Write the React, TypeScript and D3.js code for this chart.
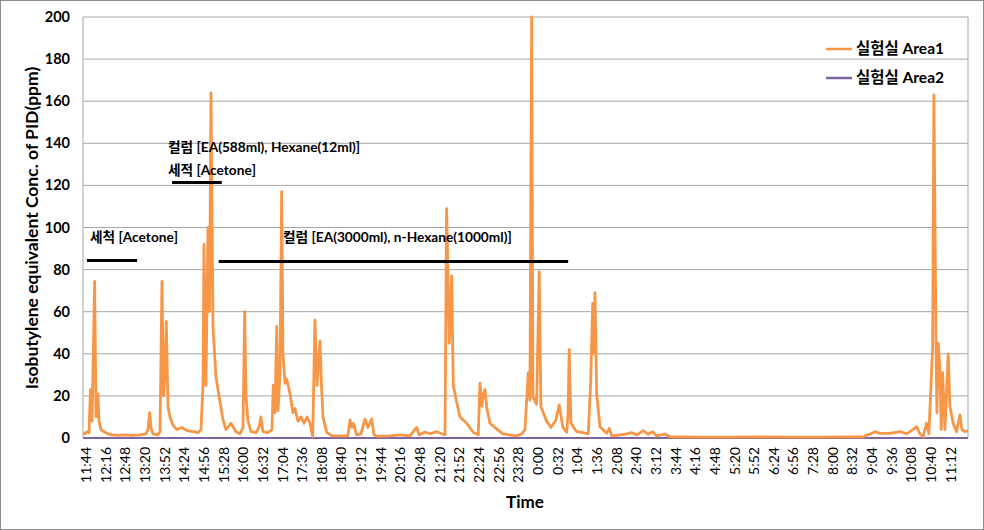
import React from "react";
import * as d3 from "d3";

// minutes elapsed since 11:39 (start of record) and PID values (ppm)
const area1Minutes = [
  0, 3.3, 6.5, 9.8, 12.2, 14.7, 19, 21.2, 24.4, 26, 29.3, 34.2, 40.7, 47.2, 57, 68.4, 79.8, 92.8, 102.6, 105.8,
  108.6, 110.7, 114, 122, 125.4, 128.6, 131, 133.5, 135.6, 138.4, 141.6, 146.5, 153, 161.2, 169.3, 179, 187.2, 192.1,
  195.4, 197, 200.2, 203.5, 206, 208.4, 211.6, 216.5, 222.6, 228, 232.8, 241, 249, 255.6, 260.5, 263.3, 265.4, 268.6,
  273.5, 281.6, 286.5, 289.8, 293, 301.2, 307.7, 309.8, 312.6, 315.4, 317.5, 320.7, 323.5, 325.6, 328.9, 331.6, 337,
  341.9, 345.2, 350, 355, 359.9, 364.7, 369.6, 374, 377.7, 381, 385.9, 388.3, 390.7, 396.8, 405.4, 418.4, 431.4, 434.7,
  438, 440, 445.6, 452.6, 459.1, 464, 470, 473.8, 478.6, 499.8, 516, 532.4, 543.3, 547, 556.8, 565, 575.8, 584.5, 589.4,
  592.1, 596.3, 600.3, 602.9, 608.4, 613.8, 624.7, 635.4, 643.6, 646.3, 649.6, 652, 654.5, 657.7, 662.6, 672.4, 683.8,
  695.2, 706.1, 714.7, 719.6, 725, 727.7, 730.5, 732.6, 738.6, 742.8, 745.6, 754.9, 761.9, 770, 775.4, 781.4, 787.5,
  789.6, 791.7, 794.5, 803.8, 814, 822.7, 826.6, 829.9, 832, 833.6, 836.4, 841.7, 852.6, 856.9, 860.8, 874.3, 885.2,
  893.3, 902, 912.2, 919.9, 927.5, 934, 947.5, 955.7, 1004.5, 1053.4, 1102.2, 1151, 1199.9, 1248.7, 1270.4, 1275.9,
  1282.9, 1289.4, 1297.6, 1313.9, 1330.2, 1341, 1351.2, 1357.3, 1362.6, 1368, 1373.5, 1377.3, 1383.4, 1385.5, 1388.8,
  1390.4, 1392.5, 1395.3, 1397.4, 1399.7, 1403.4, 1408.8, 1411.5, 1416.9, 1422.4, 1427.8, 1431.1, 1436, 1441,
];
const area1Values = [
  2.4, 2, 3, 2.5, 23, 8, 74.4, 10, 21, 8, 4, 3, 2, 1.5, 1.2, 1.5, 1.2, 1.5, 2, 4,
  12, 5, 2, 1.5, 3, 74.4, 20, 30, 55.4, 15, 10, 6, 4, 5, 3.5, 3, 2.5, 4,
  25, 92, 25, 100, 60, 164, 53, 29, 18, 8.6, 4, 7, 3, 2, 5, 60, 20, 8,
  3, 2.5, 5, 10, 3, 2.5, 4, 25, 12, 53, 13, 30, 117, 40, 26, 28, 21,
  12, 14, 8, 10, 7, 10, 7, 0.6, 56, 25, 46, 25, 10, 2.7, 1, 1, 1, 8.6,
  5, 7, 1.5, 2, 9, 5, 9, 1.5, 0.8, 1, 1.5, 1, 5, 1.5, 2.8, 2, 3, 2, 1.5,
  109, 45, 77, 25, 17, 10, 7, 2.7, 1.5, 26, 15, 21, 23, 14, 7, 4.6, 2,
  1.5, 1, 2, 4, 31, 18, 200, 19.7, 16, 79, 15, 8, 5, 8.6, 15.7, 5, 2.8,
  10, 42, 7, 3, 2.5, 2, 26, 64, 40, 69, 21, 5.4, 2.3, 4.6, 1, 1.5, 1.9,
  2.6, 1.5, 3.5, 1.8, 3, 1, 1.9, 0.6, 0.4, 0.4, 0.5, 0.4, 0.4, 0.5, 0.5, 1.4,
  2, 3, 2.2, 2.2, 3, 2, 4, 5.4, 2, 0.6, 7, 2, 43, 163, 48,
  12, 45, 32, 4, 31, 4, 40, 15, 7, 3, 11, 4, 3, 3.5,
];
const area2Minutes = [0, 1441];
const area2Values = [0, 0];

const tickLabels = [
  "11:44", "12:16", "12:48", "13:20", "13:52", "14:24", "14:56", "15:28", "16:00", "16:32", "17:04", "17:36",
  "18:08", "18:40", "19:12", "19:44", "20:16", "20:48", "21:20", "21:52", "22:24", "22:56", "23:28", "0:00",
  "0:32", "1:04", "1:36", "2:08", "2:40", "3:12", "3:44", "4:16", "4:48", "5:20", "5:52", "6:24", "6:56",
  "7:28", "8:00", "8:32", "9:04", "9:36", "10:08", "10:40", "11:12",
];
const yTicks = [0, 20, 40, 60, 80, 100, 120, 140, 160, 180, 200];
const seriesNames = ["실험실 Area1", "실험실 Area2"];

// annotation bars: [startMinute, endMinute, level]
const barStart = [6.5, 145, 221];
const barEnd = [88, 226, 790];
const barLevel = [84.3, 121.4, 83.8];
// annotation texts
const noteTexts = ["세척 [Acetone]", "컬럼 [EA(588ml), Hexane(12ml)]", "세적 [Acetone]", "컬럼 [EA(3000ml), n-Hexane(1000ml)]"];
const noteMinute = [11.4, 138.4, 138.4, 325.6];
const noteLevel = [92.9, 135.7, 124.8, 93.3];

const W = 984;
const H = 530;
const M = { left: 83, right: 968, top: 17, bottom: 438 };
const ORANGE = "#F79646";
const PURPLE = "#8064A2";
const FONT = "Lato, 'Noto Sans CJK KR', sans-serif";

export default function App() {
  const x = d3.scaleLinear().domain([0, 1441]).range([M.left, M.right]);
  const y = d3.scaleLinear().domain([0, 200]).range([M.bottom, M.top]);
  const line = d3
    .line<number>()
    .x((_, i) => x(area1Minutes[i]))
    .y((v) => y(v));
  const line2 = d3
    .line<number>()
    .x((_, i) => x(area2Minutes[i]))
    .y((v) => y(v));

  return (
    <svg width={W} height={H} style={{ position: "absolute", left: 0, top: 0, background: "#fff" }}>
      <rect x={0.5} y={0.5} width={W - 1} height={H - 1} fill="#fff" stroke="#8c8c8c" strokeWidth={1} />
      {yTicks.map((t) => (
        <line key={"g" + t} x1={M.left} x2={M.right} y1={y(t)} y2={y(t)} stroke="#a6a6a6" strokeWidth={1} />
      ))}
      <line x1={M.left} x2={M.left} y1={M.top} y2={M.bottom} stroke="#a6a6a6" />
      <line x1={M.right} x2={M.right} y1={M.top} y2={M.bottom} stroke="#a6a6a6" />
      {yTicks.map((t) => (
        <text key={"yl" + t} x={70} y={y(t)} dy="0.35em" textAnchor="end" fontFamily={FONT} fontWeight="bold" fontSize={14.5} fill="#000">
          {t}
        </text>
      ))}
      {tickLabels.map((lab, i) => {
        const tx = x(5 + 32 * i);
        return (
          <text
            key={"xl" + i}
            transform={`translate(${tx},${447}) rotate(-90)`}
            dy="0.35em"
            textAnchor="end"
            fontFamily={FONT}
            fontSize={14}
            fill="#000"
          >
            {lab}
          </text>
        );
      })}
      <text
        transform={`translate(32,${228}) rotate(-90)`}
        dy="0.35em"
        textAnchor="middle"
        fontFamily={FONT}
        fontWeight="bold"
        fontSize={17.5}
        fill="#000"
      >
        Isobutylene equivalent Conc. of PID(ppm)
      </text>
      <text x={525} y={508} textAnchor="middle" fontFamily={FONT} fontWeight="bold" fontSize={17} fill="#000">
        Time
      </text>
      <path d={line2(area2Values) || ""} fill="none" stroke={PURPLE} strokeWidth={2} />
      <path d={line(area1Values) || ""} fill="none" stroke={ORANGE} strokeWidth={2.8} strokeLinejoin="round" />
      {barStart.map((s, i) => (
        <line key={"b" + i} x1={x(s)} x2={x(barEnd[i])} y1={y(barLevel[i])} y2={y(barLevel[i])} stroke="#000" strokeWidth={3} />
      ))}
      {noteTexts.map((t, i) => (
        <text key={"n" + i} x={x(noteMinute[i])} y={y(noteLevel[i])} fontFamily={FONT} fontWeight="bold" fontSize={13.7} fill="#000">
          {t}
        </text>
      ))}
      {seriesNames.map((n, i) => (
        <g key={"lg" + i}>
          <line x1={826} x2={852} y1={49 + 29 * i} y2={49 + 29 * i} stroke={i === 0 ? ORANGE : PURPLE} strokeWidth={2.5} />
          <text x={856} y={49 + 29 * i} dy="0.35em" fontFamily={FONT} fontWeight="bold" fontSize={15.5} fill="#000">
            {n}
          </text>
        </g>
      ))}
    </svg>
  );
}
